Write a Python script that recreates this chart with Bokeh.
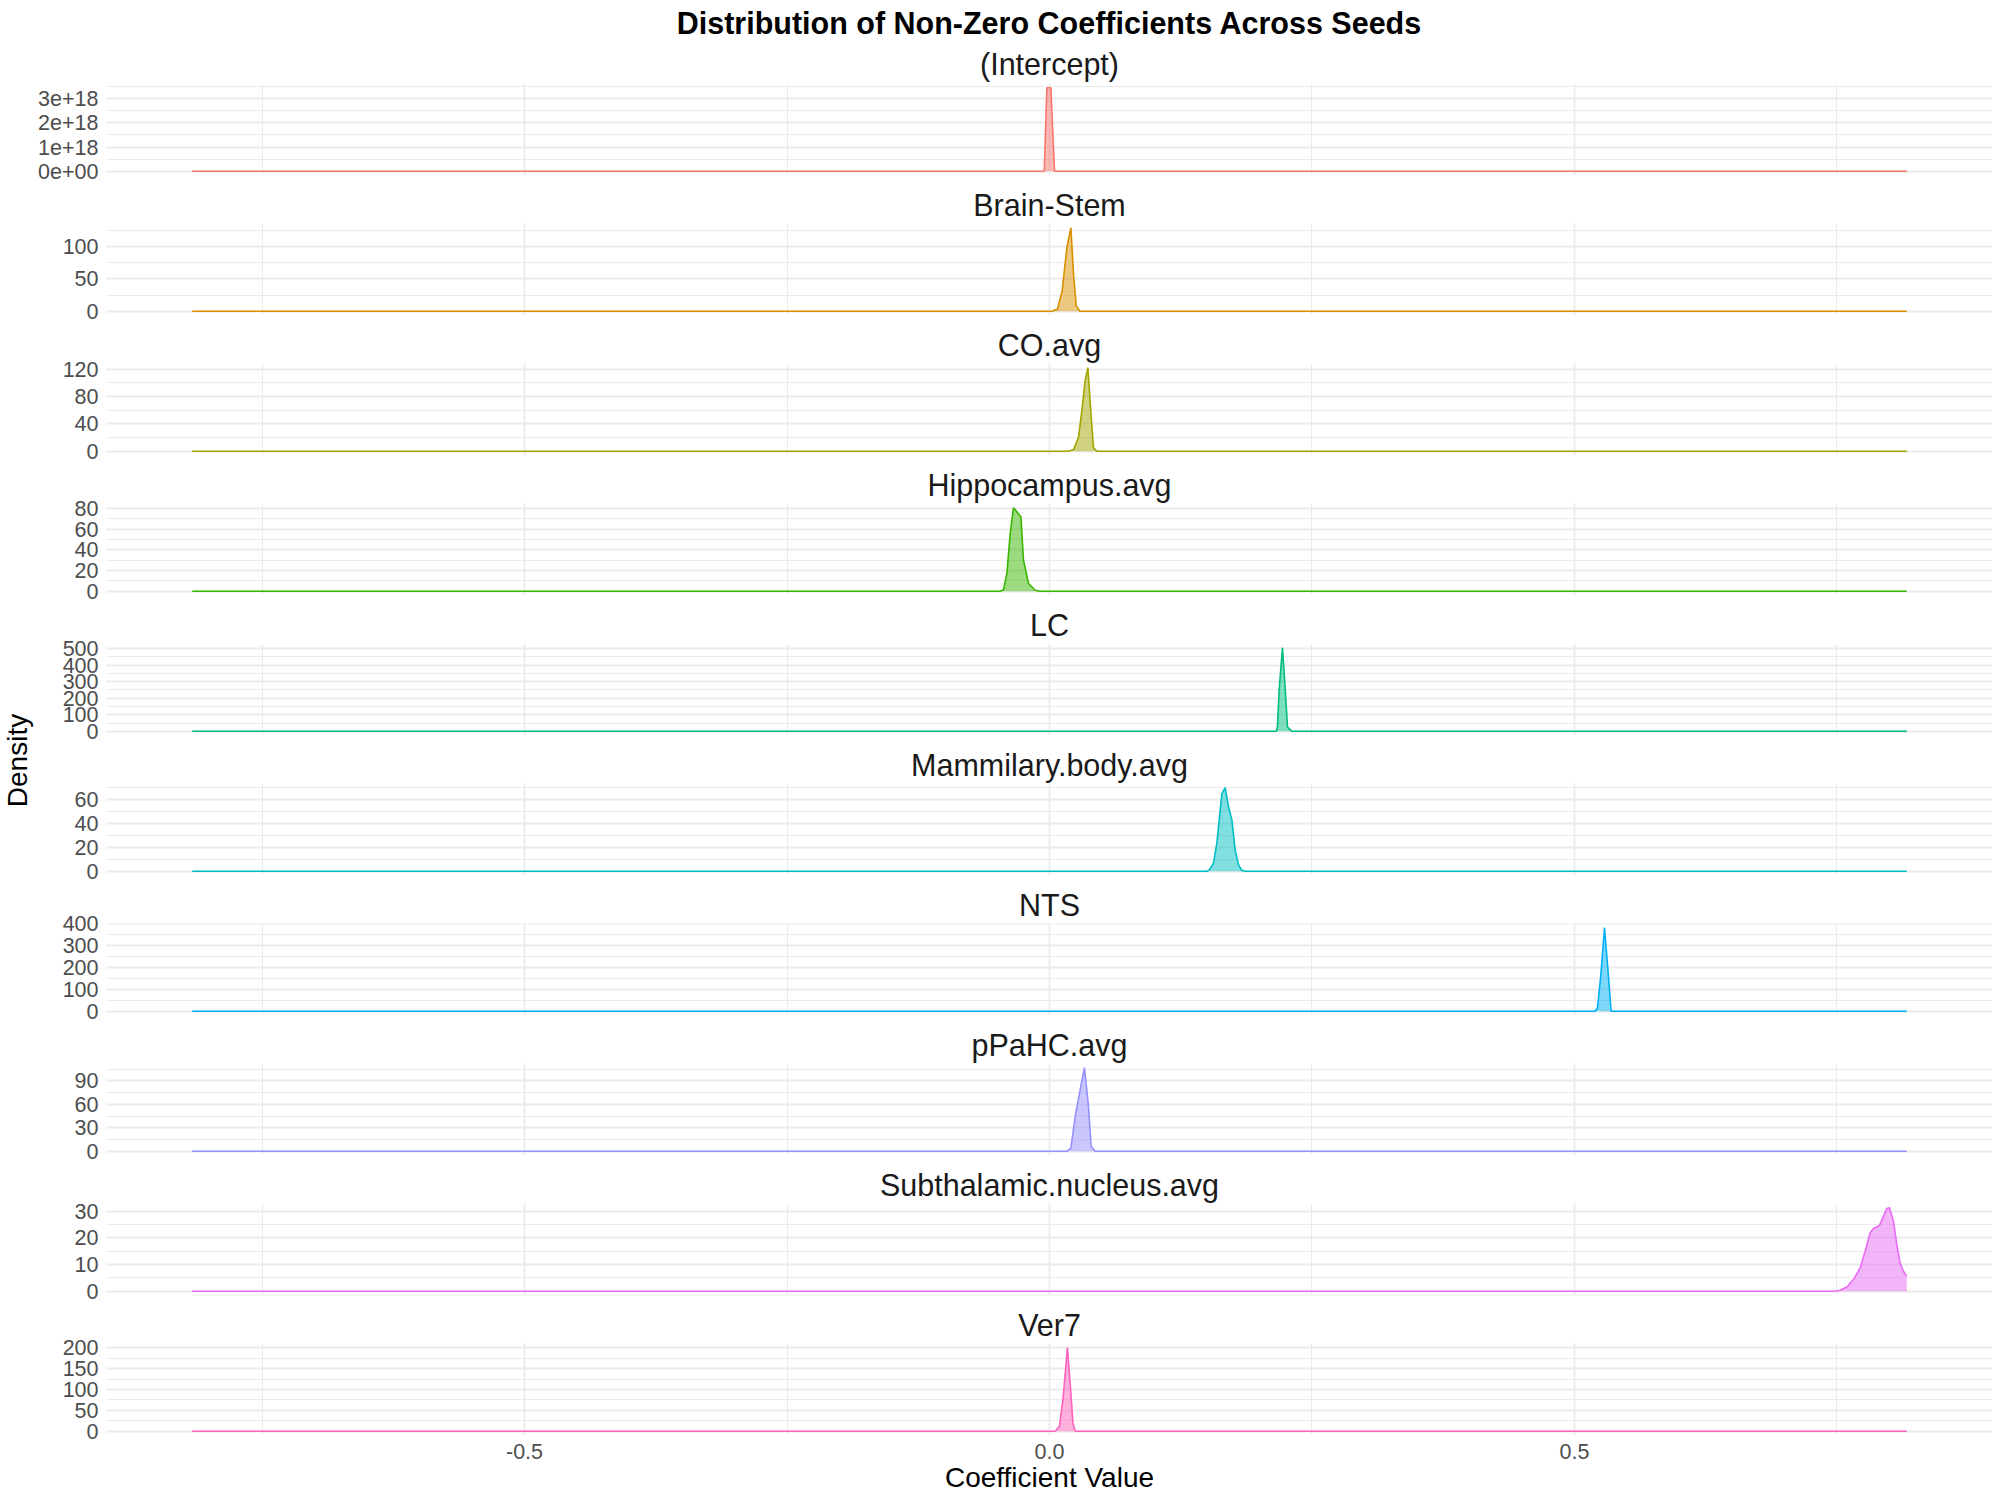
import math
from bokeh.core.properties import value
from bokeh.embed import file_html
from bokeh.layouts import column, row
from bokeh.models import ColumnDataSource, FixedTicker, Range1d, Title
from bokeh.plotting import figure
from bokeh.resources import INLINE

# coefficient grid ends (density support, shared by all facets)
x_lo, x_hi = -0.8165, 0.8165

panel_names = ["(Intercept)", "Brain-Stem", "CO.avg", "Hippocampus.avg", "LC",
               "Mammilary.body.avg", "NTS", "pPaHC.avg", "Subthalamic.nucleus.avg", "Ver7"]

intercept_x = [x_lo, -0.0050, -0.0025, 0.0013, 0.0048, x_hi]
intercept_y = [0, 0, 3.44e18, 3.44e18, 0, 0]

brain_x = [x_lo, 0.0023, 0.0076, 0.0120, 0.0166, 0.0185, 0.0204, 0.0229, 0.0254, 0.0290, x_hi]
brain_y = [0, 0, 3.6, 31, 99, 114.5, 129, 57, 8.8, 0, 0]

co_x = [x_lo, 0.0180, 0.0229, 0.0276, 0.0309, 0.0340, 0.0366, 0.0388, 0.0419, 0.0450, x_hi]
co_y = [0, 0, 2.5, 20.4, 60, 103.5, 122, 70, 5.4, 0, 0]

hippo_x = [x_lo, -0.0470, -0.0438, -0.0406, -0.0374, -0.0343, -0.0272, -0.0248, -0.0200, -0.0136, -0.0089, x_hi]
hippo_y = [0, 0, 1.6, 17.1, 55.9, 80.6, 71.9, 30, 7.5, 1, 0, 0]

lc_x = [x_lo, 0.2160, 0.2171, 0.2187, 0.2219, 0.2244, 0.2267, 0.2309, x_hi]
lc_y = [0, 0, 25.5, 247, 505, 267, 25.5, 0, 0]

mammil_x = [x_lo, 0.1500, 0.1524, 0.1562, 0.1594, 0.1626, 0.1642, 0.1673, 0.1705, 0.1737,
            0.1768, 0.1800, 0.1832, 0.1864, x_hi]
mammil_y = [0, 0, 1.4, 6.9, 23.5, 51.3, 64.6, 69.8, 54, 43, 18, 5.6, 0.8, 0, 0]

nts_x = [x_lo, 0.5197, 0.5219, 0.5250, 0.5286, 0.5324, 0.5349, x_hi]
nts_y = [0, 0, 15, 159, 383, 159, 0, 0]

ppahc_x = [x_lo, 0.0166, 0.0204, 0.0245, 0.0292, 0.0333, 0.0371, 0.0397, 0.0435, x_hi]
ppahc_y = [0, 0, 4.2, 45, 79, 107, 58, 6.4, 0, 0]

subth_x = [x_lo, 0.7483, 0.7530, 0.7594, 0.7657, 0.7721, 0.7769, 0.7816, 0.7848, 0.7905,
           0.7943, 0.7975, 0.8000, 0.8038, 0.8070, 0.8102, 0.8133, x_hi]
subth_y = [0, 0, 0.4, 1.6, 4.4, 8.75, 15, 21.9, 23.5, 24.6, 28.1, 30.9, 31.25, 26.25,
           17.5, 10.6, 7.5, 5.6]

ver7_x = [x_lo, 0.0054, 0.0095, 0.0128, 0.0171, 0.0204, 0.0223, 0.0245, x_hi]
ver7_y = [0, 0, 12, 76, 200, 91, 19, 0, 0]

# y tick values / labels for each facet
y_ticks = [
    [0, 1e18, 2e18, 3e18],
    [0, 50, 100],
    [0, 40, 80, 120],
    [0, 20, 40, 60, 80],
    [0, 100, 200, 300, 400, 500],
    [0, 20, 40, 60],
    [0, 100, 200, 300, 400],
    [0, 30, 60, 90],
    [0, 10, 20, 30],
    [0, 50, 100, 150, 200],
]
intercept_labels = ["0e+00", "1e+18", "2e+18", "3e+18"]

x_ticks = [-0.5, 0.0, 0.5]
x_tick_labels = ["-0.5", "0.0", "0.5"]
x_minor = [-0.75, -0.25, 0.25, 0.75]

colors = ["#F8766D", "#D89000", "#A3A500", "#39B600", "#00BF7D",
          "#00BFC4", "#00B0F6", "#9590FF", "#E76BF3", "#FF62BC"]

series = [(intercept_x, intercept_y), (brain_x, brain_y), (co_x, co_y), (hippo_x, hippo_y),
          (lc_x, lc_y), (mammil_x, mammil_y), (nts_x, nts_y), (ppahc_x, ppahc_y),
          (subth_x, subth_y), (ver7_x, ver7_y)]

FONT = "Liberation Sans"
GRID = "#ebebeb"
x_pad = 0.05 * (x_hi - x_lo)
x_range = Range1d(x_lo - x_pad, x_hi + x_pad)

panels = []
for i, (name, (xs, ys)) in enumerate(zip(panel_names, series)):
    top = max(ys)
    first, last = i == 0, i == len(panel_names) - 1
    p = figure(
        frame_width=1886, frame_height=92,
        x_range=x_range, y_range=Range1d(-0.05 * top, 1.05 * top),
        title=None if first else name,
        toolbar_location=None, tools="", output_backend="svg",
        min_border_left=72, min_border_right=0,
        min_border_top=83 if first else 39, min_border_bottom=0 if last else 9,
    )
    if first:
        p.add_layout(Title(text=name, align="center", text_font=FONT, text_font_size="30.5px",
                           text_font_style="normal", text_color="#1a1a1a", standoff=5), "above")
        p.add_layout(Title(text="Distribution of Non-Zero Coefficients Across Seeds", align="center",
                           text_font=FONT, text_font_size="30.5px", text_font_style="bold",
                           text_color="#000000", standoff=6), "above")
    else:
        p.title.align = "center"
        p.title.text_font = FONT
        p.title.text_font_size = "30.5px"
        p.title.text_font_style = "normal"
        p.title.text_color = "#1a1a1a"
        p.title.standoff = 3

    p.outline_line_color = None
    p.background_fill_color = "white"
    p.border_fill_color = "white"

    yt = y_ticks[i]
    step = yt[1] - yt[0]
    minors = [t + step / 2 for t in yt]
    p.yaxis.ticker = FixedTicker(ticks=yt, minor_ticks=minors)
    p.ygrid.ticker = FixedTicker(ticks=yt, minor_ticks=minors)
    if first:
        p.yaxis.major_label_overrides = dict(zip(yt, intercept_labels))
    p.yaxis.axis_line_color = None
    p.yaxis.major_tick_line_color = None
    p.yaxis.minor_tick_line_color = None
    p.yaxis.major_tick_out = 0
    p.yaxis.major_tick_in = 0
    p.yaxis.minor_tick_out = 0
    p.yaxis.major_label_standoff = 8
    p.yaxis.major_label_text_font = FONT
    p.yaxis.major_label_text_font_size = "21.5px"
    p.yaxis.major_label_text_color = "#4d4d4d"

    p.xaxis.ticker = FixedTicker(ticks=x_ticks, minor_ticks=x_minor)
    p.xgrid.ticker = FixedTicker(ticks=x_ticks, minor_ticks=x_minor)
    if last:
        p.xaxis.major_label_overrides = dict(zip(x_ticks, x_tick_labels))
        p.xaxis.axis_label = "Coefficient Value"
        p.xaxis.axis_label_text_font = FONT
        p.xaxis.axis_label_text_font_size = "28px"
        p.xaxis.axis_label_text_font_style = "normal"
        p.xaxis.axis_label_text_color = "#000000"
        p.xaxis.axis_label_standoff = 0
        p.xaxis.axis_line_color = None
        p.xaxis.major_tick_line_color = None
        p.xaxis.minor_tick_line_color = None
        p.xaxis.major_tick_out = 0
        p.xaxis.major_tick_in = 0
        p.xaxis.minor_tick_out = 0
        p.xaxis.major_label_standoff = 8
        p.xaxis.major_label_text_font = FONT
        p.xaxis.major_label_text_font_size = "21.5px"
        p.xaxis.major_label_text_color = "#4d4d4d"
    else:
        p.xaxis.visible = False

    for g in (p.xgrid, p.ygrid):
        g.grid_line_color = GRID
        g.grid_line_width = 1.8
        g.minor_grid_line_color = GRID
        g.minor_grid_line_width = 1

    src = ColumnDataSource(data=dict(x=xs, y=ys))
    p.varea(x="x", y1=0, y2="y", source=src, fill_color=colors[i], fill_alpha=0.5)
    p.line(x="x", y="y", source=src, line_color=colors[i], line_width=1.6)
    panels.append(p)

# left strip holding the shared y-axis title
total_h = 1480
lab = figure(frame_width=34, frame_height=total_h, x_range=Range1d(0, 34), y_range=Range1d(total_h, 0),
             toolbar_location=None, tools="", output_backend="svg",
             min_border_left=0, min_border_right=0, min_border_top=0, min_border_bottom=0)
lab.axis.visible = False
lab.grid.visible = False
lab.outline_line_color = None
lab.text(x=[17], y=[760], text=["Density"], angle=math.pi / 2, text_align="center",
         text_baseline="middle", text_font=value(FONT), text_font_size="28px", text_color="#000000")

layout = row(lab, column(*panels))
open("out.html", "w").write(file_html(layout, INLINE))
